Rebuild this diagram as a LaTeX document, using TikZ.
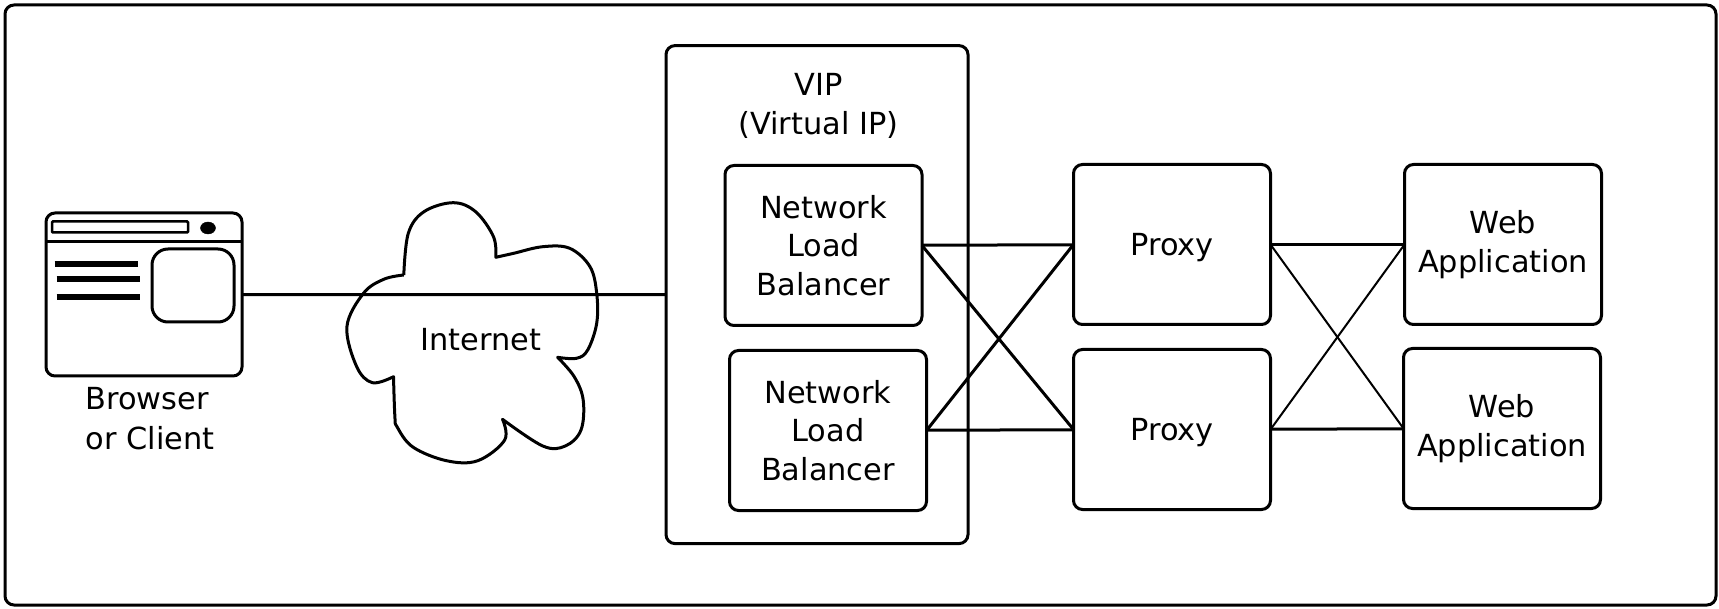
\documentclass[tikz,border=0pt]{standalone}
\usepackage{fontspec}
\setmainfont{DejaVu Sans}
\usetikzlibrary{positioning, shapes.geometric}
\tikzset{
    box/.style={draw, rounded corners=9pt, line width=3pt, inner sep=0pt, outer sep=0pt,
        align=center, font=\fontsize{30.4}{38.5}\selectfont},
    caption/.style={inner sep=0pt, outer sep=0pt, align=center, font=\fontsize{30.4}{38.5}\selectfont},
    conn/.style={line width=3pt},
    thinconn/.style={line width=2pt},
    nlbbox/.style={box, minimum width=197pt, minimum height=160pt},
    proxybox/.style={box, minimum width=197pt, minimum height=160pt}
}

\begin{document}
\begin{tikzpicture}[x=1pt, y=-1pt]
        \useasboundingbox (0,0) rectangle (1719,609);
        \node [box, minimum width=1711pt, minimum height=600pt] (frame) at (860.5,305) {};
        % browser window
        \node [box, minimum width=196pt, minimum height=163pt] (browser) at (144,294.5) {};
        \node [box, rounded corners=1pt, line width=2.5pt, minimum width=136pt, minimum height=11pt] (addr) at (120,227) {};
        \node [draw, fill, ellipse, inner sep=0pt, minimum width=15pt, minimum height=12pt] (dot) at (208,228) {};
        \node [box, rounded corners=16pt, minimum width=82pt, minimum height=73pt] (pane) at (193,285.5) {};
        \coordinate (barl) at (browser.west |- 0,242);
        \coordinate (barr) at (browser.east |- 0,242);
        \draw [conn] (barl) -- (barr);
        \foreach \x/\y in {54.7/263.7, 56.5/278.7, 56.5/296.7}
            \draw [line width=6pt] (\x,\y) -- ++(83.5,0);
        \node [caption, align=left, below=11pt of browser, xshift=6pt] (client) {Browser\\[2pt]or Client};
        % internet cloud
        \draw [line width=3pt, line join=round, xshift=-2pt]
            plot [smooth, tension=0.6] coordinates {(405.8,275) (410.3,233.3) (426,211.7) (455.2,202.7) (477.6,211.7) (495.5,236.7) (497.8,257.3)}
            -- plot [smooth, tension=0.6] coordinates {(497.8,257.3) (515.7,253.3) (544.8,246.7) (571.7,248.3) (592,266.7) (598.7,293.3) (598.7,323.3) (589.7,350) (578.5,358.3) (559.6,357.3)}
            -- plot [smooth, tension=0.6] coordinates {(559.6,357.3) (576.2,376.7) (585.2,400) (583,430) (567.3,446) (544.8,446) (504.5,419.3)}
            -- plot [smooth, tension=0.6] coordinates {(504.5,419.3) (506.7,440) (479.8,460.7) (448.4,460.7) (414.8,447) (399,426.7) (396.9,416.7) (395.5,376.7)}
            -- plot [smooth, tension=0.6] coordinates {(395.5,376.7) (374.4,382.7) (358.7,366.7) (348.9,326.7) (365.5,293.3) (385.7,279.3) (405.8,275)};
        \node [caption] (internet) at (481,340) {Internet};
        % vip group
        \node [box, minimum width=302pt, minimum height=498pt] (vip) at (817,294.6) {};
        \node [nlbbox] (nlb1) at (823.5,245.5) {Network\\Load\\Balancer};
        \node [nlbbox] (nlb2) at (828,430.5) {Network\\Load\\Balancer};
        \node [caption, above=27pt of nlb1.north, xshift=-5pt] (viplabel) {VIP\\(Virtual IP)};
        % proxies and applications
        \node [proxybox, text depth=0pt] (proxy1) at (1172,244.5) {Proxy};
        \node [proxybox, text depth=0pt] (proxy2) at (1172,429.5) {Proxy};
        \node [proxybox] (web1) at (1503,244.5) {Web\\Application};
        \node [proxybox] (web2) at (1502,428.5) {Web\\Application};
        \path [conn]
        (browser) edge (vip)
        (nlb1) edge (proxy1)
        (nlb1.east) edge (proxy2.west)
        (nlb2.east) edge (proxy1.west)
        (nlb2) edge (proxy2)
        (proxy1) edge (web1)
        (proxy2) edge (web2);
        \path [thinconn]
        (proxy1.east) edge (web2.west)
        (proxy2.east) edge (web1.west);
\end{tikzpicture}
\end{document}
